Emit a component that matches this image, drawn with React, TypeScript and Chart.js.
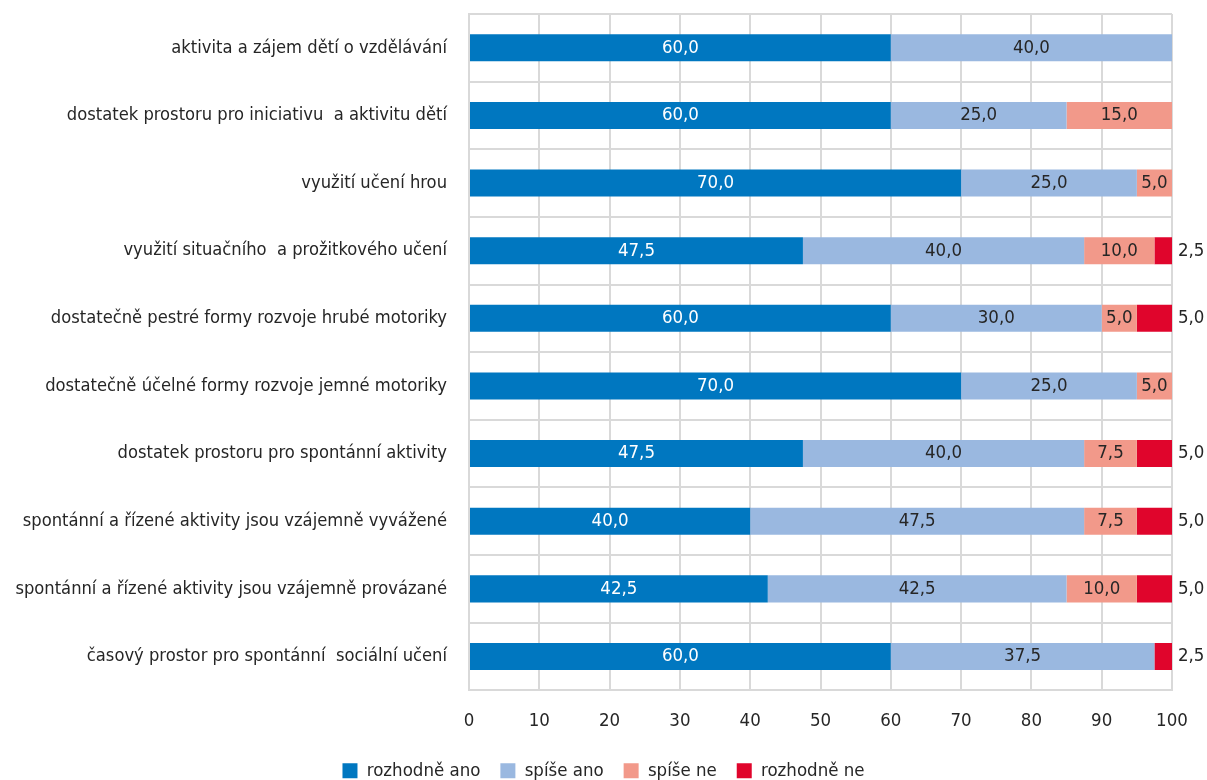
import React, { useEffect, useRef } from "react";
import { Chart, registerables } from "chart.js";

Chart.register(...registerables);

const categories = [
  "aktivita a zájem dětí o vzdělávání",
  "dostatek prostoru pro iniciativu  a aktivitu dětí",
  "využití učení hrou",
  "využití situačního  a prožitkového učení",
  "dostatečně pestré formy rozvoje hrubé motoriky",
  "dostatečně účelné formy rozvoje jemné motoriky",
  "dostatek prostoru pro spontánní aktivity",
  "spontánní a řízené aktivity jsou vzájemně vyvážené",
  "spontánní a řízené aktivity jsou vzájemně provázané",
  "časový prostor pro spontánní  sociální učení",
];

const rozhodneAno = [60, 60, 70, 47.5, 60, 70, 47.5, 40, 42.5, 60];
const spiseAno = [40, 25, 25, 40, 30, 25, 40, 47.5, 42.5, 37.5];
const spiseNe = [0, 15, 5, 10, 5, 5, 7.5, 7.5, 10, 0];
const rozhodneNe = [0, 0, 0, 2.5, 5, 0, 5, 5, 5, 2.5];

const seriesNames = ["rozhodně ano", "spíše ano", "spíše ne", "rozhodně ne"];
const seriesColors = ["#0077C0", "#9AB8E0", "#F2998A", "#E0052C"];
const labelColors = ["#FFFFFF", "#262626", "#262626", "#262626"];

const FONT = "'DejaVu Sans Condensed', 'Liberation Sans Narrow', sans-serif";

const fmt = (v: number) => v.toFixed(1).replace(".", ",");

const labelPlugin = {
  id: "barLabels",
  afterDatasetsDraw(chart: any) {
    const ctx = chart.ctx;
    ctx.save();
    ctx.font = `18.5px ${FONT}`;
    ctx.textBaseline = "middle";
    chart.data.datasets.forEach((ds: any, di: number) => {
      const meta = chart.getDatasetMeta(di);
      meta.data.forEach((el: any, i: number) => {
        const v = ds.data[i];
        if (!v) return;
        if (di === 3) {
          ctx.fillStyle = "#262626";
          ctx.textAlign = "left";
          ctx.fillText(fmt(v), chart.chartArea.right + 6, el.y);
        } else {
          ctx.fillStyle = labelColors[di];
          ctx.textAlign = "center";
          ctx.fillText(fmt(v), (el.x + el.base) / 2, el.y);
        }
      });
    });
    ctx.restore();
  },
};

export default function App() {
  const ref = useRef<HTMLCanvasElement>(null);
  useEffect(() => {
    if (!ref.current) return;
    const data = [rozhodneAno, spiseAno, spiseNe, rozhodneNe];
    const chart = new Chart(ref.current, {
      type: "bar",
      data: {
        labels: categories,
        datasets: data.map((d, i) => ({
          label: seriesNames[i],
          data: d,
          backgroundColor: seriesColors[i],
          borderWidth: 0,
          barPercentage: 0.8,
          categoryPercentage: 0.5,
        })),
      },
      options: {
        indexAxis: "y",
        animation: false,
        responsive: false,
        maintainAspectRatio: false,
        layout: { padding: { left: 0, right: 0, top: 14, bottom: -10 } },
        scales: {
          x: {
            stacked: true,
            min: 0,
            max: 100,
            ticks: {
              stepSize: 10,
              color: "#262626",
              font: { family: FONT, size: 18.5 },
              padding: 20,
            },
            grid: { color: "#D9D9D9", lineWidth: 2, drawTicks: false },
            border: { color: "#D9D9D9", width: 2 },
            afterFit: (scale: any) => {
              scale.height = scale.height - 11;
              scale.paddingRight = 35;
              scale.paddingLeft = 0;
            },
          },
          y: {
            stacked: true,
            ticks: {
              color: "#262626",
              font: { family: FONT, size: 18.2 },
              padding: 22,
              autoSkip: false,
            },
            grid: { color: "#D9D9D9", lineWidth: 2, drawTicks: false },
            border: { color: "#D9D9D9", width: 2 },
            afterFit: (scale: any) => {
              scale.width = 469;
              scale.paddingTop = 0;
              scale.paddingBottom = 0;
            },
          },
        },
        plugins: {
          legend: {
            position: "bottom",
            labels: {
              boxWidth: 15,
              boxHeight: 15,
              padding: 20,
              color: "#262626",
              font: { family: FONT, size: 18.5 },
            },
          },
          tooltip: { enabled: false },
        },
      },
      plugins: [labelPlugin],
    });
    return () => chart.destroy();
  }, []);
  return (
    <div style={{ position: "fixed", left: 0, top: 0, width: 1207, height: 780, background: "#fff", overflow: "hidden" }}>
      <canvas ref={ref} width={1207} height={780} style={{ display: "block" }} />
    </div>
  );
}
